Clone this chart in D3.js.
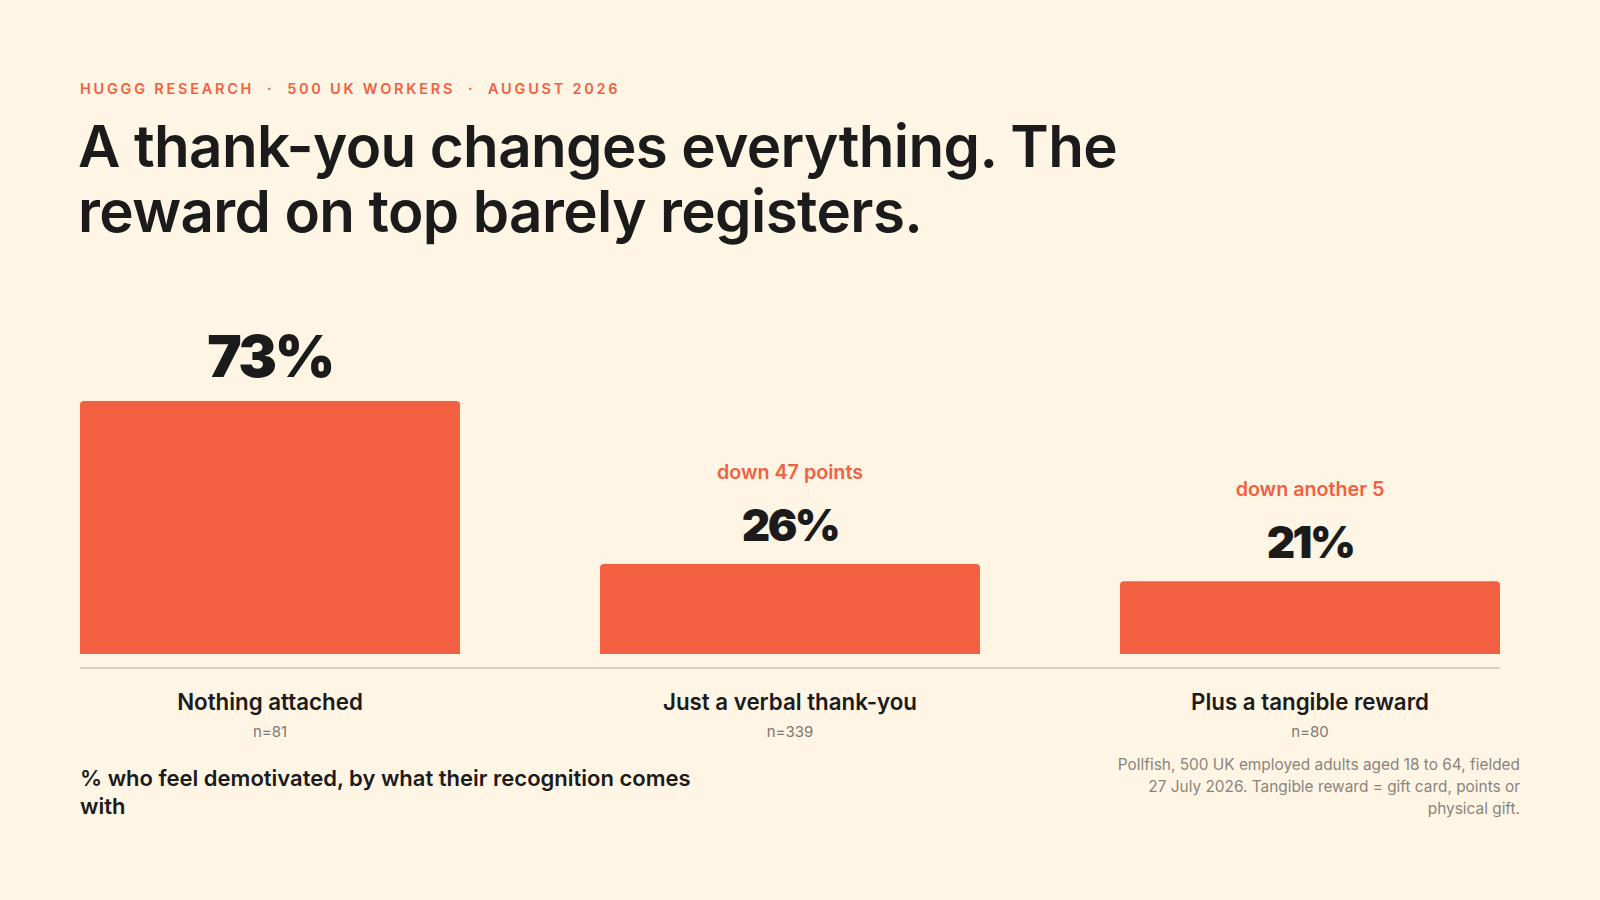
<!DOCTYPE html>
<html>
<head>
<meta charset="utf-8">
<script src="https://cdn.jsdelivr.net/npm/d3@7/dist/d3.min.js"></script>
<style>
  html, body { margin: 0; padding: 0; background: #fff5e4; }
  svg { display: block; font-family: Inter, "Noto Sans", sans-serif; }
</style>
</head>
<body>
<div id="chart"></div>
<script>
var categories = ["Nothing attached", "Just a verbal thank-you", "Plus a tangible reward"];
var values = [73, 26, 21];
var sampleSizes = [81, 339, 80];
var changeNotes = ["", "down 47 points", "down another 5"];

var eyebrow = ["HUGGG RESEARCH", "500 UK WORKERS", "AUGUST 2026"];
var titleLines = ["A thank-you changes everything. The", "reward on top barely registers."];
var captionLines = ["% who feel demotivated, by what their recognition comes", "with"];
var sourceLines = [
  "Pollfish, 500 UK employed adults aged 18 to 64, fielded",
  "27 July 2026. Tangible reward = gift card, points or",
  "physical gift."
];

var ctx = {
  w: 1600,
  h: 900,
  left: 80,
  right: 1500,
  baseY: 654,
  coral: "#f36041",
  ink: "#1b1b1b",
  grey: "#7d7873"
};

var svg = d3.select("#chart").append("svg")
  .attr("width", ctx.w)
  .attr("height", ctx.h);

svg.append("rect")
  .attr("width", ctx.w)
  .attr("height", ctx.h)
  .attr("fill", "#fff5e4");

// eyebrow line
svg.append("text")
  .attr("x", ctx.left)
  .attr("y", 94)
  .attr("fill", ctx.coral)
  .attr("font-size", 14.5)
  .attr("font-weight", 600)
  .attr("letter-spacing", 2.75)
  .attr("xml:space", "preserve")
  .text(eyebrow.join("  \u00b7  "));

// title
svg.append("g").selectAll("text")
  .data(titleLines)
  .enter()
  .append("text")
  .attr("x", ctx.left - 2)
  .attr("y", function (d, i) { return 167 + i * 65; })
  .attr("fill", ctx.ink)
  .attr("font-size", 58.3)
  .attr("font-weight", 600)
  .attr("letter-spacing", -0.6)
  .text(function (d) { return d; });

var x = d3.scaleBand()
  .domain(categories)
  .range([ctx.left, ctx.right])
  .paddingInner(0.2692)
  .paddingOuter(0);

var y = d3.scaleLinear()
  .domain([0, 100])
  .range([ctx.baseY, ctx.baseY - 346.6]);

var rows = categories.map(function (c, i) {
  return { cat: c, value: values[i], n: sampleSizes[i], note: changeNotes[i], i: i };
});

// bar with rounded top corners only
var barPath = function (d) {
  var x0 = x(d.cat), x1 = x0 + x.bandwidth();
  var y0 = y(d.value), y1 = y(0);
  var r = 4;
  return "M" + x0 + "," + y1 +
    "V" + (y0 + r) +
    "Q" + x0 + "," + y0 + " " + (x0 + r) + "," + y0 +
    "H" + (x1 - r) +
    "Q" + x1 + "," + y0 + " " + x1 + "," + (y0 + r) +
    "V" + y1 + "Z";
};

svg.append("g").selectAll("path")
  .data(rows)
  .enter()
  .append("path")
  .attr("d", barPath)
  .attr("fill", ctx.coral);

// baseline rule
svg.append("line")
  .attr("x1", ctx.left)
  .attr("x2", ctx.right)
  .attr("y1", ctx.baseY + 14)
  .attr("y2", ctx.baseY + 14)
  .attr("stroke", "#dbd0c2")
  .attr("stroke-width", 2);

var cx = function (d) { return x(d.cat) + x.bandwidth() / 2; };

// value labels, first one is the headline number
svg.append("g").selectAll("text")
  .data(rows)
  .enter()
  .append("text")
  .attr("x", cx)
  .attr("y", function (d) { return y(d.value) - (d.i === 0 ? 24 : 23); })
  .attr("text-anchor", "middle")
  .attr("fill", ctx.ink)
  .attr("font-size", function (d) { return d.i === 0 ? 58 : 44; })
  .attr("font-weight", 900)
  .attr("letter-spacing", function (d) { return d.i === 0 ? -2.5 : -2.6; })
  .text(function (d) { return d.value + "%"; });

// change annotations
svg.append("g").selectAll("text")
  .data(rows.filter(function (d) { return d.note !== ""; }))
  .enter()
  .append("text")
  .attr("x", cx)
  .attr("y", function (d) { return y(d.value) - 85; })
  .attr("text-anchor", "middle")
  .attr("fill", ctx.coral)
  .attr("font-size", 19.7)
  .attr("font-weight", 600)
  .text(function (d) { return d.note; });

// category labels
svg.append("g").selectAll("text")
  .data(rows)
  .enter()
  .append("text")
  .attr("x", cx)
  .attr("y", 710)
  .attr("text-anchor", "middle")
  .attr("fill", ctx.ink)
  .attr("font-size", 22.3)
  .attr("font-weight", 600)
  .text(function (d) { return d.cat; });

svg.append("g").selectAll("text")
  .data(rows)
  .enter()
  .append("text")
  .attr("x", cx)
  .attr("y", 737)
  .attr("text-anchor", "middle")
  .attr("fill", ctx.grey)
  .attr("font-size", 15)
  .text(function (d) { return "n=" + d.n; });

// caption
svg.append("g").selectAll("text")
  .data(captionLines)
  .enter()
  .append("text")
  .attr("x", ctx.left)
  .attr("y", function (d, i) { return 786 + i * 28; })
  .attr("fill", ctx.ink)
  .attr("font-size", 22)
  .attr("font-weight", 600)
  .text(function (d) { return d; });

// source note
svg.append("g").selectAll("text")
  .data(sourceLines)
  .enter()
  .append("text")
  .attr("x", 1520)
  .attr("y", function (d, i) { return 770 + i * 22; })
  .attr("text-anchor", "end")
  .attr("fill", "#8a847e")
  .attr("font-size", 15.4)
  .text(function (d) { return d; });
</script>
</body>
</html>
